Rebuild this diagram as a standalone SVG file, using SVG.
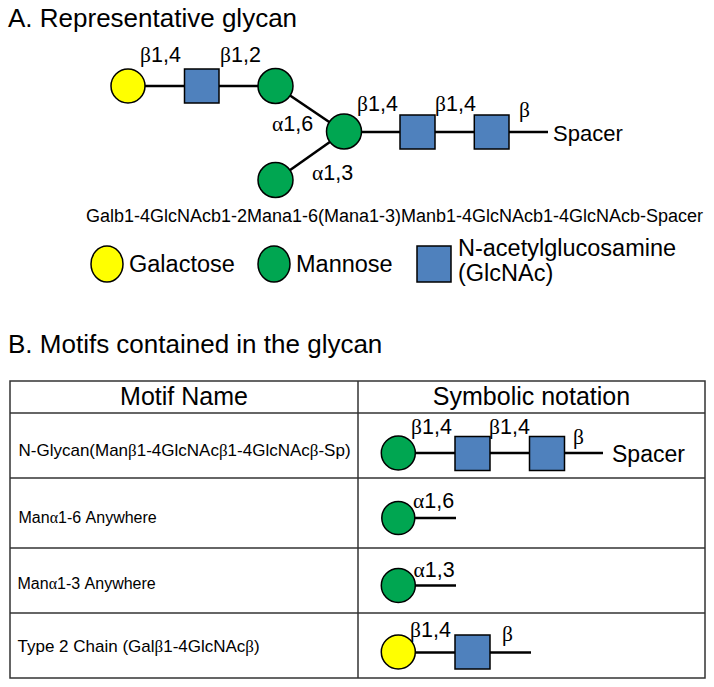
<svg xmlns="http://www.w3.org/2000/svg" width="714" height="687" viewBox="0 0 714 687">
<style>
  text { font-family: "Liberation Sans", Arial, sans-serif; fill: #000; }
  .gk { font-family: "Liberation Serif", "Times New Roman", serif; }
  .title { font-size: 26px; }
  .lbl { font-size: 21.5px; }
  .seq { font-size: 18px; }
  .leg { font-size: 23.5px; }
  .hdr { font-size: 25px; }
  .cell { font-size: 17px; }
  .cell2 { font-size: 16px; }
  .gal { fill: #ffff00; stroke: #000; stroke-width: 1.5; }
  .man { fill: #00a651; stroke: #000; stroke-width: 1.5; }
  .glc { fill: #4f81bd; stroke: #000; stroke-width: 1.5; }
  .bond { stroke: #000; stroke-width: 2.6; fill: none; }
  .grid { stroke: #333; stroke-width: 1.5; fill: none; }
</style>

<rect width="714" height="687" fill="#fff"/>

<!-- Section A -->
<text class="title" x="8" y="27">A. Representative glycan</text>

<g id="connectors">
  <line class="bond" x1="128" y1="86" x2="276" y2="86"/>
  <line class="bond" x1="276" y1="86" x2="344" y2="132"/>
  <line class="bond" x1="276" y1="180" x2="344" y2="132"/>
  <line class="bond" x1="344" y1="132" x2="548" y2="132"/>
  <!-- table motifs -->
  <line class="bond" x1="398" y1="453" x2="603" y2="453"/>
  <line class="bond" x1="398" y1="518" x2="456" y2="518"/>
  <line class="bond" x1="398" y1="585.5" x2="456" y2="585.5"/>
  <line class="bond" x1="398" y1="652.5" x2="531" y2="652.5"/>
</g>

<g id="gal-a"><circle class="gal" cx="128" cy="86" r="17"/></g>
<g id="glcnac-a1"><rect class="glc" x="184.5" y="69" width="34.5" height="34"/></g>
<g id="man-a16"><circle class="man" cx="275.5" cy="86" r="17.5"/></g>
<g id="man-core"><circle class="man" cx="344" cy="131.5" r="17.5"/></g>
<g id="man-a13"><circle class="man" cx="275.5" cy="180" r="17.5"/></g>
<g id="glcnac-a2"><rect class="glc" x="400" y="115" width="35" height="34"/></g>
<g id="glcnac-a3"><rect class="glc" x="474.3" y="115" width="34.7" height="34"/></g>
<g id="spacer-a"><text x="553" y="141" style="font-size:22px">Spacer</text></g>

<g id="labels-a">
  <text class="lbl" x="140" y="62"><tspan class="gk">β</tspan>1,4</text>
  <text class="lbl" x="220" y="62"><tspan class="gk">β</tspan>1,2</text>
  <text class="lbl" x="272" y="131"><tspan class="gk">α</tspan>1,6</text>
  <text class="lbl" x="312" y="180"><tspan class="gk">α</tspan>1,3</text>
  <text class="lbl" x="357" y="111"><tspan class="gk">β</tspan>1,4</text>
  <text class="lbl" x="435" y="111"><tspan class="gk">β</tspan>1,4</text>
  <text class="lbl gk" x="519" y="117">β</text>
</g>

<text class="seq" x="86" y="222" textLength="617" lengthAdjust="spacingAndGlyphs">Galb1-4GlcNAcb1-2Mana1-6(Mana1-3)Manb1-4GlcNAcb1-4GlcNAcb-Spacer</text>

<g id="legend">
  <g id="legend-gal"><ellipse class="gal" cx="107" cy="264" rx="16" ry="18"/><text class="leg" x="129" y="272">Galactose</text></g>
  <g id="legend-man"><ellipse class="man" cx="274" cy="264" rx="16" ry="18"/><text class="leg" x="296" y="272">Mannose</text></g>
  <g id="legend-glc"><rect class="glc" x="417" y="246" width="34" height="36"/><text class="leg" x="458" y="256">N-acetylglucosamine</text><text class="leg" x="458" y="281">(GlcNAc)</text></g>
</g>

<!-- Section B -->
<text class="title" x="8" y="353">B. Motifs contained in the glycan</text>

<g id="table">
  <rect class="grid" x="10" y="381" width="695" height="297"/>
  <line class="grid" x1="358" y1="381" x2="358" y2="678"/>
  <line class="grid" x1="10" y1="413" x2="705" y2="413"/>
  <line class="grid" x1="10" y1="478" x2="705" y2="478"/>
  <line class="grid" x1="10" y1="548" x2="705" y2="548"/>
  <line class="grid" x1="10" y1="613" x2="705" y2="613"/>
  <text class="hdr" x="184" y="405" text-anchor="middle">Motif Name</text>
  <text class="hdr" x="531.5" y="405" text-anchor="middle">Symbolic notation</text>
  <text class="cell" x="18.5" y="456">N-Glycan(Man<tspan class="gk">β</tspan>1-4GlcNAc<tspan class="gk">β</tspan>1-4GlcNAc<tspan class="gk">β</tspan>-Sp)</text>
  <text class="cell2" x="18.5" y="523">Man<tspan class="gk">α</tspan>1-6 Anywhere</text>
  <text class="cell2" x="17.5" y="589">Man<tspan class="gk">α</tspan>1-3 Anywhere</text>
  <text class="cell" x="17.5" y="652">Type 2 Chain (Gal<tspan class="gk">β</tspan>1-4GlcNAc<tspan class="gk">β</tspan>)</text>
</g>

<g id="motif-nglycan">
  <circle class="man" cx="398.3" cy="453" r="17"/>
  <rect class="glc" x="455" y="436.5" width="35" height="34"/>
  <rect class="glc" x="529.5" y="436.5" width="35" height="34"/>
  <text x="612" y="462" style="font-size:23px">Spacer</text>
  <text class="lbl" x="411" y="434"><tspan class="gk">β</tspan>1,4</text>
  <text class="lbl" x="489" y="434"><tspan class="gk">β</tspan>1,4</text>
  <text class="lbl gk" x="573" y="444">β</text>
</g>

<g id="motif-a16">
  <circle class="man" cx="398.3" cy="518" r="16.5"/>
  <text class="lbl" x="413" y="508"><tspan class="gk">α</tspan>1,6</text>
</g>

<g id="motif-a13">
  <circle class="man" cx="398.3" cy="585.5" r="17"/>
  <text class="lbl" x="413.5" y="577"><tspan class="gk">α</tspan>1,3</text>
</g>

<g id="motif-type2">
  <circle class="gal" cx="398.3" cy="652" r="17"/>
  <rect class="glc" x="455" y="635" width="35" height="34"/>
  <text class="lbl" x="410" y="637"><tspan class="gk">β</tspan>1,4</text>
  <text class="lbl gk" x="502" y="641">β</text>
</g>
</svg>
